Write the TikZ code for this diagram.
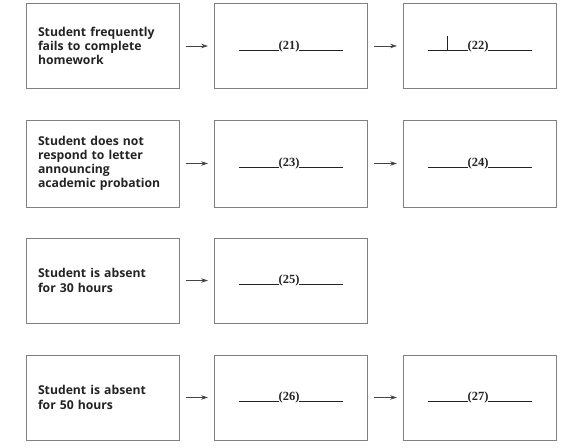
\documentclass[tikz,border=0pt]{standalone}
\usepackage{fontspec}
\setmainfont{Liberation Serif}
\newfontfamily\cuefont{Open Sans}
\usetikzlibrary{arrows.meta}
\definecolor{frameC}{RGB}{128,128,128}
\definecolor{inkC}{RGB}{35,35,35}
\newcommand{\BW}{153}
\newcommand{\BH}{85}
% answer blank: rule, number, rule
\newcommand{\blank}[1]{\rule[-1.2pt]{40pt}{0.7pt}\textbf{(#1)}\rule[-1.2pt]{44pt}{0.7pt}}

\begin{document}
\begin{tikzpicture}[
    x=1pt, y=-1pt,
    box/.style={rectangle, draw=frameC, line width=1.0pt, minimum width=\BW pt,
                minimum height=\BH pt, inner sep=0pt},
    cue/.style={box, text width=129pt, align=left, text=inkC,
                font=\cuefont\bfseries\fontsize{12.2}{14.2}\selectfont},
    ans/.style={box, text=inkC, font=\fontsize{12.5}{14}\selectfont},
    flow/.style={-{Stealth[length=7pt, width=4.5pt, inset=2.5pt]}, draw=inkC!85,
                 line width=0.6pt, shorten <=6pt, shorten >=6pt},
  ]
  \useasboundingbox (0,0) rectangle (586,447);

  % row 1: homework
  \node[cue] (c1) at (102.5,46) {Student frequently\\fails to complete\\homework};
  \node[ans] (a21) at (291,46) {\blank{21}};
  \node[ans] (a22) at (480,46) {\blank{22}};
  \draw[inkC, line width=0.7pt] (447,36) -- (447,50.5);

  % row 2: probation letter
  \node[cue, minimum height=87pt] (c2) at (102.5,163.5)
    {Student does not\\respond to letter\\announcing\\academic probation};
  \node[ans, minimum height=87pt] (a23) at (291,163.5) {\blank{23}};
  \node[ans, minimum height=87pt] (a24) at (480,163.5) {\blank{24}};

  % row 3: 30 hours
  \node[cue] (c3) at (102.5,280.5) {Student is absent\\for 30 hours};
  \node[ans] (a25) at (291,280.5) {\blank{25}};

  % row 4: 50 hours
  \node[cue] (c4) at (102.5,397.5) {Student is absent\\for 50 hours};
  \node[ans] (a26) at (291,397.5) {\blank{26}};
  \node[ans] (a27) at (480,397.5) {\blank{27}};

  \draw[flow] (c1) -- (a21);
  \draw[flow] (a21) -- (a22);
  \draw[flow] (c2) -- (a23);
  \draw[flow] (a23) -- (a24);
  \draw[flow] (c3) -- (a25);
  \draw[flow] (c4) -- (a26);
  \draw[flow] (a26) -- (a27);

\end{tikzpicture}
\end{document}
